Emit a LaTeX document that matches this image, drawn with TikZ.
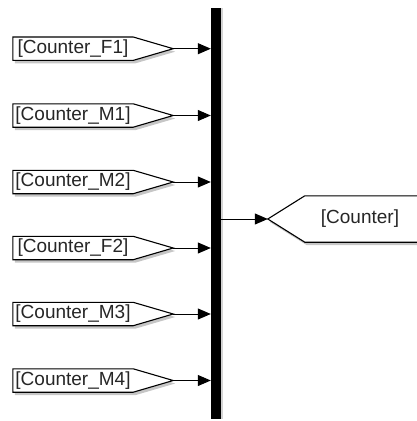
\documentclass[tikz,border=0pt]{standalone}
\usepackage{fontspec}
\setmainfont{Liberation Sans}
\usetikzlibrary{arrows.meta, shadows, backgrounds}

\begin{document}
\begin{tikzpicture}[
    x=1pt, y=-1pt,
    tag/.style={minimum width=120pt, minimum height=23pt, inner sep=0pt, text=black!85, font=\fontsize{19}{20}\selectfont},
    block/.style={draw=black, line width=1.1pt, fill=white, drop shadow={shadow xshift=2pt, shadow yshift=-3pt, opacity=0.45}},
    wire/.style={-{Triangle[length=13pt, width=11pt]}, line width=1pt}
    ]
    \useasboundingbox (0,0) rectangle (416,421);

    %Nodes
    \node[tag] at (73, 48.7) (f1) {[Counter\_F1]};
    \node[tag] at (73, 115.5) (m1) {[Counter\_M1]};
    \node[tag] at (73, 182) (m2) {[Counter\_M2]};
    \node[tag] at (73, 248) (f2) {[Counter\_F2]};
    \node[tag] at (73, 314) (m3) {[Counter\_M3]};
    \node[tag] at (73, 380.5) (m4) {[Counter\_M4]};

    \node[fill=black, minimum width=10pt, minimum height=411pt, inner sep=0pt,
          drop shadow={shadow xshift=2pt, shadow yshift=0pt, opacity=0.35}] at (216, 213.5) (bar) {};

    \node[tag, minimum width=110pt, minimum height=46pt] at (360, 219) (cnt) {[Counter]};

    %Shapes
    \begin{scope}[on background layer]
    \foreach \n in {f1,m1,m2,f2,m3,m4}
        \draw[block] (\n.north west) -- (\n.north east) -- ([xshift=40pt]\n.east) coordinate (\n-tip)
            -- (\n.south east) -- (\n.south west) -- cycle;
    \draw[block] ([xshift=-37pt]cnt.west) coordinate (cnt-tip) -- (cnt.north west) -- ([xshift=20pt]cnt.north east)
        -- ([xshift=20pt]cnt.south east) -- (cnt.south west) -- cycle;
    \end{scope}

    %Lines
    \foreach \n in {f1,m1,m2,f2,m3,m4}
        \draw[wire] (\n-tip) -- (\n-tip -| bar.west);
    \draw[wire] (bar.east |- cnt-tip) -- (cnt-tip);
\end{tikzpicture}
\end{document}
